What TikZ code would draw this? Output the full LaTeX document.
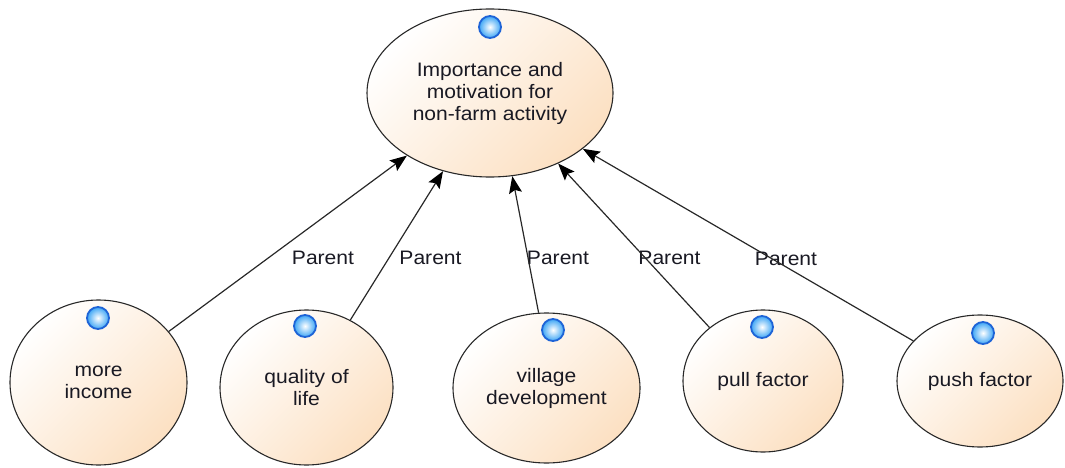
\documentclass[tikz,border=0pt]{standalone}
\usepackage{fontspec}
\setmainfont{Liberation Sans}[FakeStretch=1.08]
\usetikzlibrary{shapes.geometric,arrows.meta}

\definecolor{peach}{RGB}{252,224,194}
\definecolor{edgegray}{RGB}{40,40,40}
\definecolor{inkgray}{RGB}{25,25,35}
\definecolor{dotblue}{RGB}{60,165,245}
\definecolor{dotrim}{RGB}{30,100,215}

\tikzset{
  goal/.style={ellipse, draw=edgegray, line width=1.1pt, inner sep=0pt,
    top color=white, bottom color=peach, shading angle=45,
    align=center, text=inkgray, font=\fontsize{19.5}{22}\selectfont},
  bead/.style={circle, inner sep=0pt, minimum size=22pt,
    inner color=white, outer color=dotblue, draw=dotrim, line width=1.8pt},
  link/.style={draw=edgegray, line width=1.2pt,
    -{Stealth[length=17pt,width=13pt,inset=3pt,color=black]}},
  tag/.style={inner sep=0pt, text=inkgray, font=\fontsize{19.5}{22}\selectfont},
}

\begin{document}
\begin{tikzpicture}[x=1pt,y=-1pt]
\useasboundingbox (0,0) rectangle (1065,468);

% goal and its contributing factors
\node[goal, minimum width=246pt, minimum height=168pt] (top) at (490,93)
  {Importance and\\motivation for\\non-farm activity};
\node[goal, minimum width=177pt, minimum height=165pt] (inc) at (98.5,382.5)
  {more\\income};
\node[goal, minimum width=173pt, minimum height=155pt] (qol) at (306.5,387.5)
  {quality of\\life};
\node[goal, minimum width=187pt, minimum height=150pt] (vil) at (546.5,388)
  {village\\development};
\node[goal, minimum width=160pt, minimum height=142pt] (pul) at (763,381)
  {pull factor};
\node[goal, minimum width=166pt, minimum height=132pt] (pus) at (980,381)
  {push factor};

% status beads
\node[bead] (b0) at (490,27) {};
\node[bead] (b1) at (98,318) {};
\node[bead] (b2) at (305,326) {};
\node[bead] (b3) at (553,330) {};
\node[bead] (b4) at (762,327) {};
\node[bead] (b5) at (983,333) {};

% relation labels
\node[tag] (p1) at (323,258) {Parent};
\node[tag] (p2) at (430.5,258) {Parent};
\node[tag] (p3) at (558,258) {Parent};
\node[tag] (p4) at (669.5,258) {Parent};
\node[tag] (p5) at (786,259) {Parent};

% parent relations
\draw[link] (inc.36)  -- (top.217);
\draw[link] (qol.57)  -- (top.239);
\draw[link] (vil.96)  -- (top.285);
\draw[link] (pul.135) -- (top.314);
\draw[link] (pus.149) -- (top.329);
\end{tikzpicture}
\end{document}
